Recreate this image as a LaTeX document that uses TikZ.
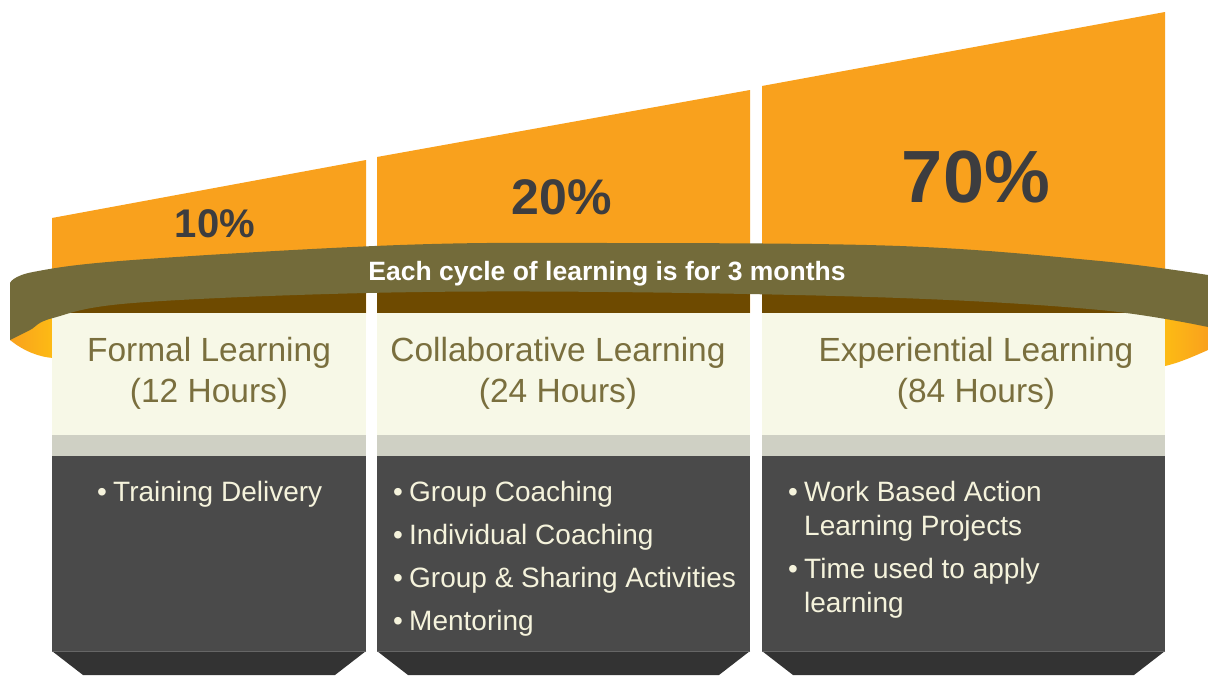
\documentclass[tikz,border=0pt]{standalone}
\usepackage{fontspec}
\setmainfont{Liberation Sans}
\usetikzlibrary{positioning}
\definecolor{barorange}{HTML}{F9A11D}
\definecolor{ringolive}{HTML}{736B3A}
\definecolor{ringbrown}{HTML}{6E4A00}
\definecolor{ringyellow}{HTML}{FDBB14}
\definecolor{headcream}{HTML}{F7F8E7}
\definecolor{stripgray}{HTML}{CFD0C4}
\definecolor{boxgray}{HTML}{4A4A4A}
\definecolor{footgray}{HTML}{333333}
\definecolor{pcttext}{HTML}{3D3D3F}
\definecolor{headtext}{HTML}{7A6F3E}
\definecolor{itemtext}{HTML}{F5F3DC}
% one column: left x, right x, top y at left, top y at right
\def\learncol(#1:#2:#3:#4){
	\fill[barorange] (#1, #3) -- (#2, #4) -- (#2, 313) -- (#1, 313) -- cycle;
	\fill[ringbrown] (#1, 280) rectangle (#2, 313);
	\fill[headcream] (#1, 313) rectangle (#2, 435);
	\fill[stripgray] (#1, 435) rectangle (#2, 456);
	\fill[boxgray] (#1, 456) rectangle (#2, 651);
	\fill[footgray] (#1, 651) -- (#2, 651) -- ({#2-31}, 675) -- ({#1+31}, 675) -- cycle;
	\draw[line width=0.6pt, color=black!60!white] (#1, 651) -- (#2, 651);
}
\def\bul{\makebox[16pt][l]{\textbullet}}

\begin{document}
\begin{tikzpicture}[x=1pt, y=-1pt,
	pct/.style={font=\bfseries, text=pcttext, inner sep=0pt, anchor=base},
	hdr/.style={font=\fontsize{33.5}{41}\selectfont, text=headtext, inner sep=0pt, anchor=base},
	itm/.style={font=\fontsize{28}{34}\selectfont, text=itemtext, inner sep=0pt, anchor=base west},
	ringtext/.style={font=\fontsize{26.5}{30}\selectfont\bfseries, text=white, inner sep=0pt, anchor=base}]
	%%%%% START %%%%%
	
	\useasboundingbox[fill=white] (0, 0) rectangle (1208, 675);
	
	% back of the ring, seen at both ends
	\shade[left color=barorange, right color=ringyellow] (10, 300) -- (10, 340) .. controls (25, 352) and (40, 357) .. (53, 358) -- (53, 300) -- cycle;
	\shade[left color=ringyellow, right color=barorange] (1165, 300) -- (1208, 300) -- (1208, 350) .. controls (1190, 358) and (1178, 363) .. (1165, 366) -- cycle;
	
	% the three columns
	\learncol(52:366:218:160)
	\learncol(377:750:157:90)
	\learncol(762:1165:86:12)
	
	% front of the ring
	\fill[ringolive] plot[smooth, tension=0.6] coordinates {(10, 283) (33, 272) (133, 260) (400, 245) (609, 243) (900, 246) (1100, 261) (1208, 275)}
		-- (1208, 327)
		-- plot[smooth, tension=0.6] coordinates {(1208, 327) (1100, 310) (900, 298) (609, 292) (367, 293) (133, 303) (53, 318) (30, 330) (10, 340)}
		-- cycle;
	
	\node[ringtext] (cycle) at (607, 280) {Each cycle of learning is for 3 months};
	
	\node[pct, font=\fontsize{40}{40}\selectfont\bfseries] (pctformal) at (215, 237) {10\%};
	\node[pct, font=\fontsize{50}{50}\selectfont\bfseries] (pctcollab) at (562, 214) {20\%};
	\node[pct, font=\fontsize{74}{74}\selectfont\bfseries] (pctexper) at (976, 202) {70\%};
	
	\node[hdr] (formal) at (209, 361) {\begin{tabular}[t]{@{}c@{}}Formal Learning\\(12 Hours)\end{tabular}};
	\node[hdr] (collab) at (558, 361) {\begin{tabular}[t]{@{}c@{}}Collaborative Learning\\(24 Hours)\end{tabular}};
	\node[hdr] (exper) at (976, 361) {\begin{tabular}[t]{@{}c@{}}Experiential Learning\\(84 Hours)\end{tabular}};
	
	\node[itm] (formalitems) at (97, 501) {\begin{tabular}[t]{@{}l@{}l@{}}\bul & Training Delivery\end{tabular}};
	\node[itm] (collabitems) at (393, 501) {\begin{tabular}[t]{@{}l@{}l@{}}\bul & Group Coaching\\[9pt]
		\bul & Individual Coaching\\[9pt]
		\bul & Group \& Sharing Activities\\[9pt]
		\bul & Mentoring\end{tabular}};
	\node[itm] (experitems) at (788, 501) {\begin{tabular}[t]{@{}l@{}l@{}}\bul & Work Based Action\\
		& Learning Projects\\[9pt]
		\bul & Time used to apply\\
		& learning\end{tabular}};
	
	%%%%% END %%%%%
\end{tikzpicture}
\end{document}
